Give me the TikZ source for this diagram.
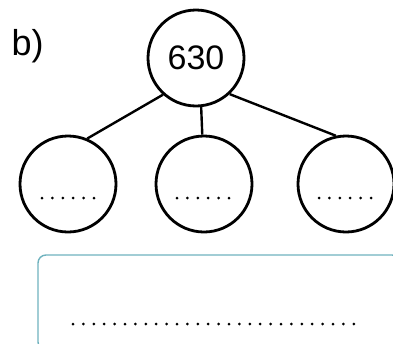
\documentclass[tikz,border=0pt]{standalone}
\usepackage{fontspec}
\setmainfont{Liberation Sans}
\definecolor{boxteal}{RGB}{110,178,190}
\tikzset{
  numcircle/.style={circle,draw,line width=2.8pt,minimum size=96pt,inner sep=0pt},
  dotline/.style={line width=3pt,line cap=round,dash pattern=on 0pt off 10.4pt},
}
\begin{document}
\begin{tikzpicture}[x=1pt,y=-1pt]
        \useasboundingbox (0,0) rectangle (393,343);
        \clip (0,0) rectangle (393,343);
        \node [anchor=base west,font=\fontsize{36}{36}\selectfont] (lbl) at (8,55) {b)};
        \node [numcircle,font=\fontsize{34}{34}\selectfont] (top) at (196,58) {630};
        \node [numcircle] (left) at (68,184) {};
        \node [numcircle] (mid) at (204,184) {};
        \node [numcircle] (right) at (346,184) {};
        \draw [line width=2.4pt] (top.228) -- (left.67);
        \draw [line width=2.4pt] (top.-84) -- (mid.92);
        \draw [line width=2.4pt] (top.-47) -- (right.102);
        \draw [dotline] (42,198) -- (95,198);
        \draw [dotline] (177,198) -- (230,198);
        \draw [dotline] (319,198) -- (372,198);
        \draw [boxteal,line width=1.4pt,rounded corners=8pt] (38,255) rectangle (400,350);
        \draw [dotline] (73,324) -- (364,324);
    \end{tikzpicture}
\end{document}
